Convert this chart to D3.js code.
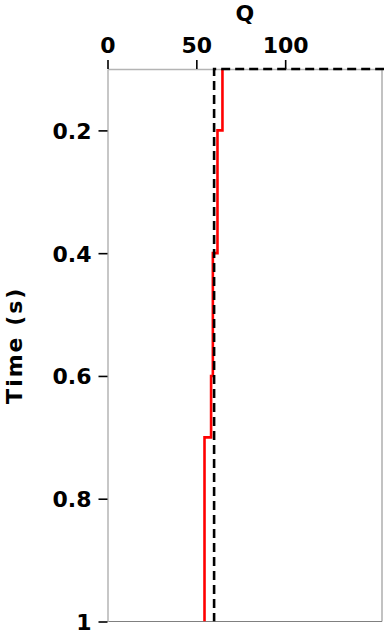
<!DOCTYPE html>
<html>
<head>
<meta charset="utf-8">
<script src="https://cdn.jsdelivr.net/npm/d3@7"></script>
<style>
  body { margin: 0; background: #fff; }
  text { font-family: "DejaVu Sans", sans-serif; font-weight: bold; }
</style>
</head>
<body>
<svg id="chart" width="384" height="631"></svg>
<script>
// --- data ---
// reference Q (dashed): step at t=0.1 from off-scale down to 60
const refTime = [0.1, 0.1, 1.0];
const refQ    = [400, 60, 60];
// estimated Q (red): piecewise constant layers
const estTime = [0.1, 0.2, 0.2, 0.4, 0.4, 0.6, 0.6, 0.7, 0.7, 1.0];
const estQ    = [64.7, 64.7, 61.9, 61.9, 59.3, 59.3, 58.3, 58.3, 54.6, 54.6];
const qTicks = [0, 50, 100];
const tTicks = [0.2, 0.4, 0.6, 0.8, 1];

const svg = d3.select("#chart");
const m = { left: 107.5, top: 69, right: 382, bottom: 621.5 };

const x = d3.scaleLinear().domain([0, 154.5]).range([m.left, m.right]);
const y = d3.scaleLinear().domain([0.1, 1.0]).range([m.top, m.bottom]);

// clip so off-scale values stay in the frame
svg.append("clipPath").attr("id", "clip")
  .append("rect")
  .attr("x", m.left).attr("y", m.top - 2)
  .attr("width", m.right - m.left + 2).attr("height", m.bottom - m.top + 2);

// frame: right and bottom
svg.append("line")
  .attr("x1", m.right).attr("x2", m.right).attr("y1", m.top).attr("y2", m.bottom)
  .attr("stroke", "#999").attr("stroke-width", 1.2);
svg.append("line")
  .attr("x1", m.left).attr("x2", m.right).attr("y1", m.bottom).attr("y2", m.bottom)
  .attr("stroke", "#808080").attr("stroke-width", 1.2);

// axes
const xAxis = svg.append("g")
  .attr("transform", `translate(0,${m.top})`)
  .call(d3.axisTop(x).tickValues(qTicks).tickSize(9).tickPadding(7).tickSizeOuter(0));
const yAxis = svg.append("g")
  .attr("transform", `translate(${m.left},0)`)
  .call(d3.axisLeft(y).tickValues(tTicks).tickSize(9).tickPadding(7).tickSizeOuter(0)
    .tickFormat(d3.format("~g")));

[xAxis, yAxis].forEach(a => {
  a.select(".domain").attr("stroke", "#b4b4b4").attr("stroke-width", 1.5);
  a.selectAll(".tick line").attr("stroke", "#000").attr("stroke-width", 1.6);
  a.selectAll(".tick text")
    .attr("fill", "#000")
    .attr("font-size", 22);
});
yAxis.selectAll(".tick text").attr("dy", "0.36em");

// lines
const line = d3.line().x(d => x(d[1])).y(d => y(d[0]));
const plot = svg.append("g").attr("clip-path", "url(#clip)");

plot.append("path")
  .datum(d3.zip(estTime, estQ))
  .attr("d", line)
  .attr("fill", "none")
  .attr("stroke", "#ff0000")
  .attr("stroke-width", 2.6);

plot.append("path")
  .datum(d3.zip(refTime, refQ))
  .attr("d", line)
  .attr("fill", "none")
  .attr("stroke", "#000")
  .attr("stroke-width", 2.6)
  .attr("stroke-dasharray", "9,5");

// titles
svg.append("text")
  .attr("x", (m.left + m.right) / 2).attr("y", 21)
  .attr("text-anchor", "middle")
  .attr("font-size", 22)
  .text("Q");

svg.append("text")
  .attr("transform", `translate(22,${(m.top + m.bottom) / 2}) rotate(-90)`)
  .attr("text-anchor", "middle")
  .attr("font-size", 22)
  .attr("letter-spacing", 2)
  .text("Time (s)");
</script>
</body>
</html>
